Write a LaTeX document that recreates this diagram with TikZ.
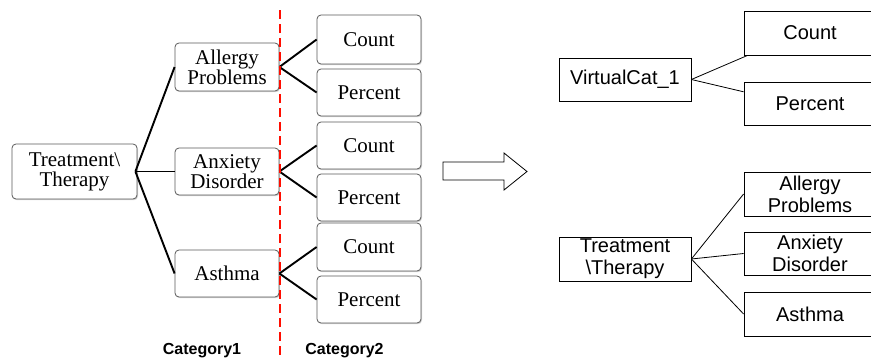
\documentclass[tikz,border=0pt]{standalone}
\usepackage{fontspec}
\setmainfont{Liberation Serif}
\setsansfont{Liberation Sans}
\usetikzlibrary{shadows}

\tikzstyle{every node}=[inner sep=0pt, align=center]
\tikzstyle{oldbox}=[draw=black!65, line width=0.8pt, rounded corners=4pt, fill=white,
    drop shadow={shadow xshift=1pt, shadow yshift=-1.2pt, opacity=0.35},
    minimum width=104pt, minimum height=48pt, font={\fontsize{21}{20}\selectfont}]
\tikzstyle{newbox}=[draw=black, line width=0.8pt, minimum width=132pt, minimum height=44pt,
    font={\sffamily\fontsize{20}{22}\selectfont}]
\tikzstyle{oldedge}=[line width=1.9pt]
\tikzstyle{newedge}=[line width=0.8pt]
\tikzstyle{cat}=[font={\sffamily\bfseries\fontsize{16}{18}\selectfont}]

\begin{document}
\begin{tikzpicture}[x=1pt, y=-1pt]
    \useasboundingbox (0,0) rectangle (871,362);

    \node [oldbox, minimum width=125pt, minimum height=55pt] (tt) at (74.5,171.5) {Treatment\textbackslash\\Therapy};
    \node [oldbox] (ap) at (227,67) {Allergy\\Problems};
    \node [oldbox, minimum height=47pt] (ad) at (227,171.5) {Anxiety\\Disorder};
    \node [oldbox, minimum height=47pt] (as) at (227,273.5) {Asthma};
    \node [oldbox, minimum height=49pt] (c1) at (369,39.5) {Count};
    \node [oldbox, minimum height=47pt] (p1) at (369,92.5) {Percent};
    \node [oldbox, minimum height=47pt] (c2) at (369,145.5) {Count};
    \node [oldbox, minimum height=47pt] (p2) at (369,197.5) {Percent};
    \node [oldbox] (c3) at (369,247) {Count};
    \node [oldbox, minimum height=47pt] (p3) at (369,299.5) {Percent};

    \foreach \k in {ap,ad,as}
        \draw [oldedge] ([xshift=-2pt]tt.east) -- (\k.west);
    \foreach \k/\c/\p in {ap/c1/p1,ad/c2/p2,as/c3/p3} {
        \draw [oldedge] (\k.east) -- (\c.west);
        \draw [oldedge] (\k.east) -- (\p.west);
    }

    \coordinate (cuttop) at (280,10);
    \coordinate (cutbot) at (280,356);
    \draw [red!90!orange, line width=2.4pt, dash pattern=on 9pt off 5pt] (cuttop) -- (cutbot);

    \node [cat] (cat1) at (202,351) {Category1};
    \node [cat] (cat2) at (344.5,351) {Category2};

    \draw [line width=0.8pt] (443,162) -- (504,162) -- (504,153) -- (527,171.5)
        -- (504,190) -- (504,180) -- (443,180) -- cycle;

    \node [newbox, minimum height=43pt] (vc) at (625,79.5) {VirtualCat\_1};
    \node [newbox] (rc) at (810,33) {Count};
    \node [newbox, minimum height=43pt] (rp) at (810,103.5) {Percent};
    \node [newbox] (rt) at (625,259) {Treatment\\\textbackslash Therapy};
    \node [newbox] (ra) at (810,194) {Allergy\\Problems};
    \node [newbox, minimum height=43pt] (rd) at (810,253.5) {Anxiety\\Disorder};
    \node [newbox] (rs) at (810,314) {Asthma};

    \draw [newedge] (vc.east) -- ([xshift=4pt]rc.south west);
    \draw [newedge] (vc.east) -- (rp.170);
    \foreach \k in {ra,rd,rs}
        \draw [newedge] (rt.east) -- (\k.west);
\end{tikzpicture}
\end{document}
